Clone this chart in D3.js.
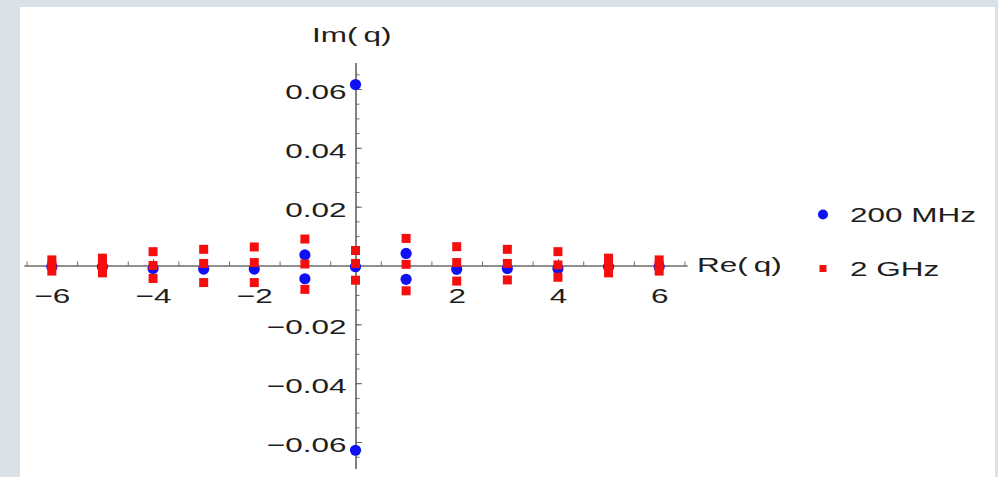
<!DOCTYPE html>
<html>
<head>
<meta charset="utf-8">
<script src="https://cdn.jsdelivr.net/npm/d3@7"></script>
<style>
  html, body { margin: 0; padding: 0; background: #d9e0e6; }
  svg { display: block; }
  text { font-family: "Liberation Sans", Arial, sans-serif; fill: #1e1e1e; }
</style>
</head>
<body>
<script>
// Series names shown in the legend
const seriesNames = ["200 MHz", "2 GHz"];

// 200 MHz eigenvalues q (real and imaginary parts)
const re200 = [-6, -5, -4, -3, -2, -1, -1, 0, 0, 0, 1, 1, 2, 3, 4, 5, 6];
const im200 = [-0.0004, -0.0004, -0.001, -0.0012, -0.0012, 0.0036, -0.0045,
               0.0615, -0.0004, -0.0628, 0.0041, -0.0047,
               -0.0013, -0.001, -0.001, -0.0004, -0.0004];

// 2 GHz eigenvalues q (real and imaginary parts)
const re2G = [-6, -6, -6, -5, -5, -5, -4, -4, -4, -3, -3, -3, -2, -2, -2, -1, -1, -1,
              0, 0, 0, 1, 1, 1, 2, 2, 2, 3, 3, 3, 4, 4, 4, 5, 5, 5, 6, 6, 6];
const im2G = [0.0019, 0, -0.0019,   0.0025, 0, -0.0025,   0.0047, 0, -0.0044,
              0.0055, 0.0007, -0.0058, 0.0063, 0.001, -0.0058, 0.009, 0.0005, -0.0081,
              0.0051, 0.0007, -0.005,  0.0092, 0.0004, -0.0086, 0.0064, 0.001, -0.0053,
              0.0055, 0.0007, -0.0049, 0.0047, 0.0002, -0.004,  0.0025, 0, -0.0025,
              0.0019, 0, -0.0019];

// Axis ticks
const xMajorTicks = [-6, -4, -2, 0, 2, 4, 6];
const xMinorTicks = d3.range(-13, 14).map(k => k / 2);
const yMajorTicks = [-0.06, -0.04, -0.02, 0.02, 0.04, 0.06];
const yMinorTicks = d3.range(-13, 14).map(k => k * 0.005);

const W = 998, H = 477;
const FONT = 21, STRETCH = 1.5;

const svg = d3.select("body").append("svg").attr("width", W).attr("height", H);

// white plotting panel
svg.append("rect").attr("x", 20).attr("y", 7).attr("width", 975).attr("height", H - 7)
  .attr("fill", "#ffffff");

const x = d3.scaleLinear().domain([-6.55, 6.55]).range([24, 687]);
const y = d3.scaleLinear().domain([-0.069, 0.069]).range([468.5, 62.5]);

const x0 = x(0), y0 = y(0);

function styleAxis(g) {
  g.select(".domain").attr("stroke", "#6a6a6a").attr("stroke-width", 1.2);
  g.selectAll(".tick line").attr("stroke", "#6a6a6a").attr("stroke-width", 1);
}

// horizontal axis (ticks point up, labels below)
svg.append("g").attr("transform", `translate(0,${y0})`)
  .call(d3.axisBottom(x).tickValues(xMinorTicks).tickSizeInner(-4).tickSizeOuter(0).tickFormat(""))
  .call(styleAxis);
const gx = svg.append("g").attr("transform", `translate(0,${y0})`)
  .call(d3.axisBottom(x).tickValues(xMajorTicks).tickSizeInner(-6.5).tickSizeOuter(0)
    .tickPadding(23).tickFormat(d => d === 0 ? "" : d3.format("d")(d)))
  .call(styleAxis);
gx.selectAll(".tick text").attr("font-size", FONT).attr("font-family", null).attr("fill", "#1e1e1e")
  .attr("transform", `scale(${STRETCH},1)`);

// vertical axis (ticks point right, labels left)
svg.append("g").attr("transform", `translate(${x0},0)`)
  .call(d3.axisLeft(y).tickValues(yMinorTicks).tickSizeInner(-4).tickSizeOuter(0).tickFormat(""))
  .call(styleAxis);
const gy = svg.append("g").attr("transform", `translate(${x0},0)`)
  .call(d3.axisLeft(y).tickValues(yMajorTicks).tickSizeInner(-6.5).tickSizeOuter(0)
    .tickFormat(d3.format(".2f")))
  .call(styleAxis);
gy.selectAll(".tick text").attr("font-size", FONT).attr("font-family", null).attr("fill", "#1e1e1e")
  .attr("x", 0).attr("dy", "0.45em")
  .attr("transform", `translate(-9,0) scale(${STRETCH},1)`);

// axis titles
function stretchedLabel(px, py, first, second, gap, anchor) {
  const t = svg.append("text")
    .attr("font-size", FONT)
    .attr("text-anchor", anchor)
    .attr("transform", `translate(${px},${py}) scale(${STRETCH},1)`);
  t.append("tspan").text(first);
  t.append("tspan").attr("dx", gap).text(second);
  return t;
}
stretchedLabel(312, 42, "Im(", "q)", 4, "start");
stretchedLabel(697, 271.5, "Re(", "q)", 4, "start");

// data: 200 MHz (blue discs) below 2 GHz (red squares)
const blue = "#1010f5", red = "#f50e0e";
const pts200 = d3.zip(re200, im200);
const pts2G = d3.zip(re2G, im2G);

svg.append("g").selectAll("circle").data(pts200).join("circle")
  .attr("cx", d => x(d[0])).attr("cy", d => y(d[1])).attr("r", 5.6)
  .attr("fill", blue);

const sq = 9;
svg.append("g").selectAll("rect").data(pts2G).join("rect")
  .attr("x", d => x(d[0]) - sq / 2).attr("y", d => y(d[1]) - sq / 2)
  .attr("width", sq).attr("height", sq)
  .attr("fill", red);

// legend
const legend = svg.append("g");
const legendY = [214.5, 268.5];
legend.append("circle").attr("cx", 823).attr("cy", legendY[0]).attr("r", 5).attr("fill", blue);
legend.append("rect").attr("x", 823 - 3.5).attr("y", legendY[1] - 3.5).attr("width", 7).attr("height", 7)
  .attr("fill", red);
seriesNames.forEach((name, i) => {
  legend.append("text")
    .attr("font-size", FONT)
    .attr("transform", `translate(850,${legendY[i] + 7.5}) scale(${STRETCH},1)`)
    .text(name);
});
</script>
</body>
</html>
